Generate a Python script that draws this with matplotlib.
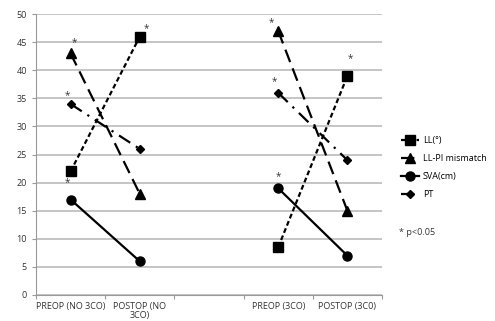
import matplotlib
matplotlib.use("Agg")
import matplotlib.pyplot as plt
import numpy as np

plt.rcParams['font.family'] = ['Open Sans', 'DejaVu Sans']

categories = ['PREOP (NO 3CO)', 'POSTOP (NO\n3CO)', '', 'PREOP (3CO)', 'POSTOP (3C0)']
ll = [22, 46, np.nan, 8.5, 39]
ll_pi = [43, 18, np.nan, 47, 15]
sva = [17, 6, np.nan, 19, 7]
pt = [34, 26, np.nan, 36, 24]

# significance stars: (category index, y value)
stars = [(0, 45), (0, 35.5), (0, 20), (1, 47.5),
         (3, 48.5), (3, 38), (3, 21), (4, 42)]
star_dx = [0.05, -0.05, -0.05, 0.1, -0.1, -0.05, 0.0, 0.04]

fig = plt.figure(figsize=(4.95, 3.21), dpi=100)
ax = fig.add_axes([0.0727, 0.081, 0.699, 0.875])
x = np.arange(len(categories))

ax.plot(x, ll, color='black', ls=(0, (2.2, 1.3)), lw=1.6, marker='s', ms=6.5, label='LL(°)')
ax.plot(x, ll_pi, color='black', ls=(0, (6, 3)), lw=1.6, marker='^', ms=6.5, label='LL-PI mismatch')
ax.plot(x, sva, color='black', ls='-', lw=1.6, marker='o', ms=6.5, label='SVA(cm)')
ax.plot(x, pt, color='black', ls=(0, (6, 3, 1, 3)), lw=1.6, marker='D', ms=4.5, label='PT')

for (i, y), dx in zip(stars, star_dx):
    ax.text(i + dx, y, '*', fontsize=7, ha='center', va='center', color='#333333')

ax.set_xlim(-0.5, 4.5)
ax.set_ylim(0, 50)
ax.set_yticks(range(0, 55, 5))
ax.set_xticks(np.arange(-0.5, 5, 1), minor=False)
ax.set_xticklabels([])
ax.set_xticks(x, minor=True)
ax.set_xticklabels(categories, minor=True, fontsize=6.5, color='#333333', linespacing=0.95)
ax.tick_params(axis='x', which='minor', length=0, pad=5)
ax.tick_params(axis='x', which='major', length=3, color='#999999', direction='out')
ax.tick_params(axis='y', labelsize=6.5, colors='#333333', length=3, color='#999999')
ax.yaxis.grid(True, color='#bbbbbb', lw=1.2)
ax.set_axisbelow(True)
for s in ['top', 'right']:
    ax.spines[s].set_visible(False)
ax.spines['left'].set_color('#999999')
ax.spines['bottom'].set_color('#999999')

leg = ax.legend(loc='upper left', bbox_to_anchor=(1.045, 0.58), frameon=False,
                fontsize=6.5, handlelength=2.0, labelspacing=1.0, handletextpad=0.4,
                borderaxespad=0)
fig.text(0.807, 0.277, '* p<0.05', fontsize=6.5, color='#333333', va='center')

fig.savefig('out.png', dpi=100)
